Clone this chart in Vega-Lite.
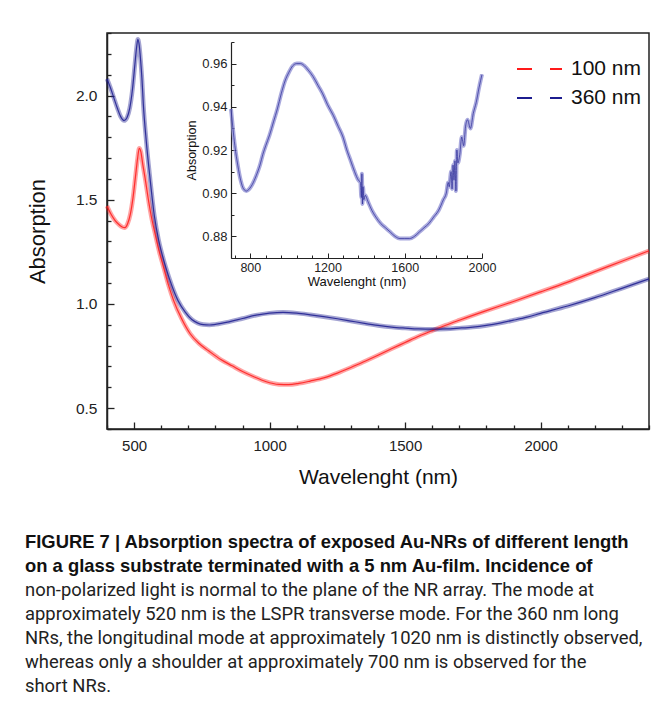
{
  "$schema": "https://vega.github.io/schema/vega-lite/v6.json",
  "autosize": {"type": "none"},
  "width": 542,
  "height": 396,
  "padding": {"left": 107, "top": 33, "right": 6, "bottom": 280},
  "background": "white",
  "config": {
    "view": {"stroke": "#222", "strokeWidth": 1.5},
    "font": "Liberation Sans",
    "axis": {"grid": false, "domainColor": "#222", "domainWidth": 1.5, "tickColor": "#222", "tickWidth": 1.3, "labelColor": "#222", "titleColor": "#111", "titleFontWeight": "normal", "labelOverlap": false, "labelFlush": false}
  },
  "title": {
    "text": ["FIGURE 7 | Absorption spectra of exposed Au-NRs of different length", "on a glass substrate terminated with a 5 nm Au-film. Incidence of"],
    "subtitle": ["non-polarized light is normal to the plane of the NR array. The mode at", "approximately 520 nm is the LSPR transverse mode. For the 360 nm long", "NRs, the longitudinal mode at approximately 1020 nm is distinctly observed,", "whereas only a shoulder at approximately 700 nm is observed for the", "short NRs."],
    "orient": "bottom",
    "anchor": "start",
    "frame": "group",
    "dx": -82,
    "offset": 46,
    "font": "Liberation Sans",
    "fontSize": 18.4,
    "fontWeight": "bold",
    "lineHeight": 24,
    "color": "#111",
    "subtitleFont": "Roboto",
    "subtitleFontSize": 18.4,
    "subtitleFontWeight": "normal",
    "subtitleLineHeight": 24,
    "subtitleColor": "#222",
    "subtitlePadding": 6
  },
  "datasets": {
    "main": [
      {"series": "100 nm", "nm": 400, "A": 1.47},
      {"series": "100 nm", "nm": 415, "A": 1.43},
      {"series": "100 nm", "nm": 430, "A": 1.40},
      {"series": "100 nm", "nm": 445, "A": 1.38},
      {"series": "100 nm", "nm": 458, "A": 1.368},
      {"series": "100 nm", "nm": 466, "A": 1.366},
      {"series": "100 nm", "nm": 476, "A": 1.385},
      {"series": "100 nm", "nm": 486, "A": 1.43},
      {"series": "100 nm", "nm": 496, "A": 1.51},
      {"series": "100 nm", "nm": 505, "A": 1.61},
      {"series": "100 nm", "nm": 513, "A": 1.70},
      {"series": "100 nm", "nm": 519, "A": 1.747},
      {"series": "100 nm", "nm": 525, "A": 1.73},
      {"series": "100 nm", "nm": 532, "A": 1.67},
      {"series": "100 nm", "nm": 541, "A": 1.60},
      {"series": "100 nm", "nm": 554, "A": 1.49},
      {"series": "100 nm", "nm": 565, "A": 1.41},
      {"series": "100 nm", "nm": 578, "A": 1.334},
      {"series": "100 nm", "nm": 593, "A": 1.25},
      {"series": "100 nm", "nm": 609, "A": 1.175},
      {"series": "100 nm", "nm": 627, "A": 1.09},
      {"series": "100 nm", "nm": 646, "A": 1.016},
      {"series": "100 nm", "nm": 675, "A": 0.93},
      {"series": "100 nm", "nm": 707, "A": 0.857},
      {"series": "100 nm", "nm": 740, "A": 0.81},
      {"series": "100 nm", "nm": 775, "A": 0.775},
      {"series": "100 nm", "nm": 820, "A": 0.733},
      {"series": "100 nm", "nm": 862, "A": 0.703},
      {"series": "100 nm", "nm": 900, "A": 0.676},
      {"series": "100 nm", "nm": 940, "A": 0.652},
      {"series": "100 nm", "nm": 985, "A": 0.628},
      {"series": "100 nm", "nm": 1035, "A": 0.614},
      {"series": "100 nm", "nm": 1070, "A": 0.613},
      {"series": "100 nm", "nm": 1108, "A": 0.619},
      {"series": "100 nm", "nm": 1150, "A": 0.63},
      {"series": "100 nm", "nm": 1200, "A": 0.645},
      {"series": "100 nm", "nm": 1250, "A": 0.668},
      {"series": "100 nm", "nm": 1300, "A": 0.695},
      {"series": "100 nm", "nm": 1350, "A": 0.724},
      {"series": "100 nm", "nm": 1400, "A": 0.754},
      {"series": "100 nm", "nm": 1450, "A": 0.785},
      {"series": "100 nm", "nm": 1500, "A": 0.815},
      {"series": "100 nm", "nm": 1550, "A": 0.845},
      {"series": "100 nm", "nm": 1600, "A": 0.872},
      {"series": "100 nm", "nm": 1650, "A": 0.898},
      {"series": "100 nm", "nm": 1700, "A": 0.922},
      {"series": "100 nm", "nm": 1800, "A": 0.968},
      {"series": "100 nm", "nm": 1900, "A": 1.012},
      {"series": "100 nm", "nm": 2000, "A": 1.058},
      {"series": "100 nm", "nm": 2100, "A": 1.105},
      {"series": "100 nm", "nm": 2200, "A": 1.155},
      {"series": "100 nm", "nm": 2300, "A": 1.205},
      {"series": "100 nm", "nm": 2400, "A": 1.255},
      {"series": "360 nm", "nm": 400, "A": 2.08},
      {"series": "360 nm", "nm": 412, "A": 2.04},
      {"series": "360 nm", "nm": 425, "A": 1.99},
      {"series": "360 nm", "nm": 438, "A": 1.94},
      {"series": "360 nm", "nm": 450, "A": 1.90},
      {"series": "360 nm", "nm": 463, "A": 1.88},
      {"series": "360 nm", "nm": 474, "A": 1.895},
      {"series": "360 nm", "nm": 484, "A": 1.94},
      {"series": "360 nm", "nm": 494, "A": 2.03},
      {"series": "360 nm", "nm": 503, "A": 2.15},
      {"series": "360 nm", "nm": 510, "A": 2.24},
      {"series": "360 nm", "nm": 514, "A": 2.27},
      {"series": "360 nm", "nm": 519, "A": 2.24},
      {"series": "360 nm", "nm": 524, "A": 2.17},
      {"series": "360 nm", "nm": 529, "A": 2.08},
      {"series": "360 nm", "nm": 534, "A": 1.96},
      {"series": "360 nm", "nm": 545, "A": 1.78},
      {"series": "360 nm", "nm": 559, "A": 1.60},
      {"series": "360 nm", "nm": 575, "A": 1.42},
      {"series": "360 nm", "nm": 590, "A": 1.31},
      {"series": "360 nm", "nm": 605, "A": 1.23},
      {"series": "360 nm", "nm": 617, "A": 1.175},
      {"series": "360 nm", "nm": 640, "A": 1.085},
      {"series": "360 nm", "nm": 662, "A": 1.016},
      {"series": "360 nm", "nm": 688, "A": 0.962},
      {"series": "360 nm", "nm": 713, "A": 0.925},
      {"series": "360 nm", "nm": 735, "A": 0.908},
      {"series": "360 nm", "nm": 755, "A": 0.901},
      {"series": "360 nm", "nm": 778, "A": 0.899},
      {"series": "360 nm", "nm": 800, "A": 0.902},
      {"series": "360 nm", "nm": 850, "A": 0.914},
      {"series": "360 nm", "nm": 900, "A": 0.930},
      {"series": "360 nm", "nm": 950, "A": 0.946},
      {"series": "360 nm", "nm": 1000, "A": 0.956},
      {"series": "360 nm", "nm": 1050, "A": 0.960},
      {"series": "360 nm", "nm": 1100, "A": 0.956},
      {"series": "360 nm", "nm": 1150, "A": 0.948},
      {"series": "360 nm", "nm": 1200, "A": 0.939},
      {"series": "360 nm", "nm": 1250, "A": 0.929},
      {"series": "360 nm", "nm": 1300, "A": 0.918},
      {"series": "360 nm", "nm": 1350, "A": 0.907},
      {"series": "360 nm", "nm": 1400, "A": 0.897},
      {"series": "360 nm", "nm": 1450, "A": 0.889},
      {"series": "360 nm", "nm": 1500, "A": 0.884},
      {"series": "360 nm", "nm": 1550, "A": 0.880},
      {"series": "360 nm", "nm": 1600, "A": 0.879},
      {"series": "360 nm", "nm": 1650, "A": 0.880},
      {"series": "360 nm", "nm": 1700, "A": 0.884},
      {"series": "360 nm", "nm": 1750, "A": 0.889},
      {"series": "360 nm", "nm": 1800, "A": 0.897},
      {"series": "360 nm", "nm": 1850, "A": 0.908},
      {"series": "360 nm", "nm": 1900, "A": 0.922},
      {"series": "360 nm", "nm": 1950, "A": 0.937},
      {"series": "360 nm", "nm": 2000, "A": 0.955},
      {"series": "360 nm", "nm": 2100, "A": 0.990},
      {"series": "360 nm", "nm": 2200, "A": 1.030},
      {"series": "360 nm", "nm": 2300, "A": 1.075},
      {"series": "360 nm", "nm": 2400, "A": 1.120}
    ],
    "inset": [
      {"nm": 700, "A": 0.939}, {"nm": 710, "A": 0.930}, {"nm": 720, "A": 0.922}, {"nm": 735, "A": 0.913},
      {"nm": 750, "A": 0.906}, {"nm": 765, "A": 0.902}, {"nm": 780, "A": 0.901}, {"nm": 795, "A": 0.902},
      {"nm": 810, "A": 0.904}, {"nm": 830, "A": 0.908}, {"nm": 850, "A": 0.913}, {"nm": 865, "A": 0.918},
      {"nm": 880, "A": 0.922}, {"nm": 900, "A": 0.927}, {"nm": 920, "A": 0.933}, {"nm": 940, "A": 0.939},
      {"nm": 960, "A": 0.946}, {"nm": 980, "A": 0.952}, {"nm": 1000, "A": 0.956}, {"nm": 1020, "A": 0.959},
      {"nm": 1040, "A": 0.960}, {"nm": 1060, "A": 0.960}, {"nm": 1080, "A": 0.959}, {"nm": 1100, "A": 0.957},
      {"nm": 1125, "A": 0.954}, {"nm": 1150, "A": 0.950}, {"nm": 1175, "A": 0.946}, {"nm": 1200, "A": 0.941},
      {"nm": 1230, "A": 0.936}, {"nm": 1255, "A": 0.931}, {"nm": 1280, "A": 0.926}, {"nm": 1300, "A": 0.920},
      {"nm": 1320, "A": 0.915}, {"nm": 1340, "A": 0.910}, {"nm": 1360, "A": 0.906}, {"nm": 1370, "A": 0.905},
      {"nm": 1375, "A": 0.898}, {"nm": 1378, "A": 0.909}, {"nm": 1381, "A": 0.895}, {"nm": 1384, "A": 0.903},
      {"nm": 1388, "A": 0.897}, {"nm": 1395, "A": 0.899}, {"nm": 1410, "A": 0.896}, {"nm": 1430, "A": 0.892},
      {"nm": 1450, "A": 0.889}, {"nm": 1475, "A": 0.886}, {"nm": 1500, "A": 0.884}, {"nm": 1525, "A": 0.882},
      {"nm": 1550, "A": 0.880}, {"nm": 1575, "A": 0.879}, {"nm": 1600, "A": 0.879}, {"nm": 1625, "A": 0.879},
      {"nm": 1650, "A": 0.880}, {"nm": 1675, "A": 0.882}, {"nm": 1700, "A": 0.884}, {"nm": 1725, "A": 0.886},
      {"nm": 1750, "A": 0.889}, {"nm": 1775, "A": 0.892}, {"nm": 1800, "A": 0.897}, {"nm": 1815, "A": 0.900},
      {"nm": 1825, "A": 0.905}, {"nm": 1830, "A": 0.903}, {"nm": 1840, "A": 0.910}, {"nm": 1845, "A": 0.902},
      {"nm": 1850, "A": 0.913}, {"nm": 1855, "A": 0.906}, {"nm": 1860, "A": 0.915}, {"nm": 1865, "A": 0.901},
      {"nm": 1870, "A": 0.920}, {"nm": 1875, "A": 0.914}, {"nm": 1885, "A": 0.918}, {"nm": 1895, "A": 0.926},
      {"nm": 1905, "A": 0.922}, {"nm": 1915, "A": 0.931}, {"nm": 1925, "A": 0.934}, {"nm": 1940, "A": 0.930},
      {"nm": 1955, "A": 0.937}, {"nm": 1970, "A": 0.942}, {"nm": 1985, "A": 0.949}, {"nm": 2000, "A": 0.955}
    ]
  },
  "layer": [
    {
      "data": {"name": "main"},
      "encoding": {
        "x": {
          "field": "nm", "type": "quantitative",
          "scale": {"domain": [400, 2400], "nice": false, "zero": false},
          "axis": {
            "values": [400, 500, 600, 700, 800, 900, 1000, 1100, 1200, 1300, 1400, 1500, 1600, 1700, 1800, 1900, 2000, 2100, 2200, 2300, 2400],
            "format": "d",
            "labelExpr": "datum.value % 500 === 0 ? datum.label : ''",
            "tickSize": {"condition": {"test": "datum.value % 500 === 0", "value": -7}, "value": -4},
            "labelFontSize": 15, "labelPadding": 16,
            "title": "Wavelenght (nm)", "titleFontSize": 21, "titlePadding": 10
          }
        },
        "y": {
          "field": "A", "type": "quantitative",
          "scale": {"domain": [0.4, 2.3], "nice": false, "zero": false},
          "axis": {
            "values": [0.4, 0.5, 0.6, 0.7, 0.8, 0.9, 1.0, 1.1, 1.2, 1.3, 1.4, 1.5, 1.6, 1.7, 1.8, 1.9, 2.0, 2.1, 2.2, 2.3],
            "format": ".1f",
            "labelExpr": "abs(datum.value * 2 - round(datum.value * 2)) < 0.001 ? datum.label : ''",
            "tickSize": {"condition": {"test": "abs(datum.value * 2 - round(datum.value * 2)) < 0.001", "value": -7}, "value": -4},
            "labelFontSize": 15.5, "labelPadding": 17,
            "title": "Absorption", "titleFontSize": 22, "titlePadding": 26
          }
        },
        "color": {
          "field": "series", "type": "nominal",
          "scale": {"domain": ["100 nm", "360 nm"], "range": ["#ff1a1a", "#1c1c8f"]},
          "legend": {
            "title": null, "orient": "none", "legendX": 424, "legendY": 25, "padding": 0,
            "labelFontSize": 21, "labelColor": "#111", "labelOffset": 18,
            "symbolType": "M-2.5,0H-1M0.8,0H2.0", "symbolSize": 400, "symbolStrokeWidth": 2, "symbolOpacity": 1,
            "rowPadding": 8
          }
        }
      },
      "layer": [
        {"mark": {"type": "line", "strokeWidth": 4.5, "opacity": 0.4, "interpolate": "monotone"}},
        {"mark": {"type": "line", "strokeWidth": 1.2, "opacity": 0.85, "interpolate": "monotone"}}
      ]
    },
    {
      "encoding": {
        "x": {
          "field": "nm", "type": "quantitative",
          "scale": {"domain": [700, 2000], "range": [124, 375], "nice": false, "zero": false},
          "axis": {
            "orient": "bottom", "offset": -171,
            "values": [720, 800, 880, 960, 1040, 1120, 1200, 1280, 1360, 1440, 1520, 1600, 1680, 1760, 1840, 1920, 2000],
            "format": "d",
            "labelExpr": "datum.value % 400 === 0 ? datum.label : ''",
            "tickSize": {"condition": {"test": "datum.value % 400 === 0", "value": -5}, "value": -3},
            "domainWidth": 1.2, "tickWidth": 1,
            "labelFontSize": 12.5, "labelPadding": 8,
            "title": "Wavelenght (nm)", "titleFontSize": 13, "titlePadding": 0
          }
        },
        "y": {
          "field": "A", "type": "quantitative",
          "scale": {"domain": [0.87, 0.97], "range": [225, 9], "nice": false, "zero": false},
          "axis": {
            "orient": "left", "offset": -124,
            "values": [0.87, 0.88, 0.89, 0.9, 0.91, 0.92, 0.93, 0.94, 0.95, 0.96, 0.97],
            "format": ".2f",
            "labelExpr": "abs(datum.value * 50 - round(datum.value * 50)) < 0.001 ? datum.label : ''",
            "tickSize": {"condition": {"test": "abs(datum.value * 50 - round(datum.value * 50)) < 0.001", "value": -5}, "value": -3},
            "domainWidth": 1.2, "tickWidth": 1,
            "labelFontSize": 13, "labelPadding": 9,
            "title": "Absorption", "titleFontSize": 12.5, "titlePadding": 3
          }
        }
      },
      "layer": [
        {
          "data": {"values": [{}]},
          "mark": {"type": "rect", "fill": "white", "stroke": "#333", "strokeWidth": 1.2},
          "encoding": {
            "x": {"datum": 700, "type": "quantitative"},
            "x2": {"datum": 2000},
            "y": {"datum": 0.87, "type": "quantitative"},
            "y2": {"datum": 0.97}
          }
        },
        {"data": {"name": "inset"}, "mark": {"type": "line", "strokeWidth": 4, "color": "#8c8cd2", "opacity": 0.75, "interpolate": "monotone"}},
        {"data": {"name": "inset"}, "mark": {"type": "line", "strokeWidth": 0.9, "color": "#1c1c8f", "opacity": 0.7, "interpolate": "monotone"}}
      ]
    }
  ],
  "resolve": {"scale": {"x": "independent", "y": "independent"}, "axis": {"x": "independent", "y": "independent"}}
}
